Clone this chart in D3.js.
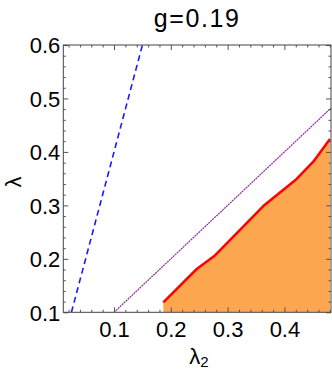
<!DOCTYPE html>
<html><head><meta charset="utf-8">
<script src="https://cdn.jsdelivr.net/npm/d3@7"></script>
<style>body{margin:0;background:#fff}svg{display:block}</style></head>
<body>
<script>
const title = "g=0.19";
const xLabel = "λ";
const xLabelSub = "2";
const yLabel = "λ";
const xDomain = [0.0107, 0.482];
const yDomain = [0.1, 0.6];
const xMajorTicks = [0.1, 0.2, 0.3, 0.4];
const yMajorTicks = [0.1, 0.2, 0.3, 0.4, 0.5, 0.6];
const xTickLabels = ["0.1", "0.2", "0.3", "0.4"];
const yTickLabels = ["0.1", "0.2", "0.3", "0.4", "0.5", "0.6"];
// red boundary curve
const redLambda2 = [0.1868, 0.2456, 0.2765, 0.3628, 0.4216, 0.4508, 0.4802];
const redLambda  = [0.1187, 0.1810, 0.2053, 0.2988, 0.3494, 0.3817, 0.4242];
// blue dashed line
const blueLambda2 = [0.025, 0.15];
const blueLambda  = [0.1, 0.6];
// purple dotted line
const purpleLambda2 = [0.1, 0.482];
const purpleLambda  = [0.1, 0.482];

const W = 332, H = 371;
const m = {left: 63.3, right: 331, top: 45, bottom: 312.3};
const svg = d3.select("body").append("svg").attr("width", W).attr("height", H);
const x = d3.scaleLinear().domain(xDomain).range([m.left, m.right]);
const y = d3.scaleLinear().domain(yDomain).range([m.bottom, m.top]);
const font = "'Liberation Sans', Arial, sans-serif";

svg.append("clipPath").attr("id", "c").append("rect")
  .attr("x", m.left).attr("y", m.top).attr("width", m.right - m.left).attr("height", m.bottom - m.top);
const g = svg.append("g").attr("clip-path", "url(#c)");

const red = redLambda2.map((v, i) => [v, redLambda[i]]);
const fillPts = [[redLambda2[0], yDomain[0]], ...red, [redLambda2[redLambda2.length - 1], yDomain[0]]];
const line = d3.line().x(d => x(d[0])).y(d => y(d[1]));

g.append("path").attr("d", line(fillPts) + "Z").attr("fill", "#fda650").attr("stroke", "none");
g.append("path").attr("d", line(purpleLambda2.map((v, i) => [v, purpleLambda[i]])))
  .attr("fill", "none").attr("stroke", "#8e2c9e").attr("stroke-width", 1.2).attr("stroke-dasharray", "2,0.7");
g.append("path").attr("d", line(blueLambda2.map((v, i) => [v, blueLambda[i]])))
  .attr("fill", "none").attr("stroke", "#1a1aff").attr("stroke-width", 1.6).attr("stroke-dasharray", "6,4");
g.append("path").attr("d", line(red))
  .attr("fill", "none").attr("stroke", "#ff0000").attr("stroke-width", 2.5).attr("stroke-linejoin", "round");

// minor ticks
const xMinor = d3.range(0.02, 0.481, 0.02).filter(v => !xMajorTicks.some(t => Math.abs(t - v) < 1e-6));
const yMinor = d3.range(0.12, 0.6, 0.02).filter(v => !yMajorTicks.some(t => Math.abs(t - v) < 1e-6));
const tickColor = "#555";
function styleAxis(sel) {
  sel.select(".domain").remove();
  sel.selectAll("line").attr("stroke", tickColor);
}
svg.append("g").attr("transform", `translate(0,${m.bottom})`)
  .call(d3.axisBottom(x).tickValues(xMinor).tickSize(-2.5).tickFormat("")).call(styleAxis);
svg.append("g").attr("transform", `translate(0,${m.top})`)
  .call(d3.axisTop(x).tickValues(xMinor).tickSize(-2.5).tickFormat("")).call(styleAxis);
svg.append("g").attr("transform", `translate(0,${m.top})`)
  .call(d3.axisTop(x).tickValues(xMajorTicks).tickSize(-5).tickFormat("")).call(styleAxis);
svg.append("g").attr("transform", `translate(${m.left},0)`)
  .call(d3.axisLeft(y).tickValues(yMinor).tickSize(-2.5).tickFormat("")).call(styleAxis);
svg.append("g").attr("transform", `translate(${m.right},0)`)
  .call(d3.axisRight(y).tickValues(yMinor).tickSize(-2.5).tickFormat("")).call(styleAxis);
svg.append("g").attr("transform", `translate(${m.right},0)`)
  .call(d3.axisRight(y).tickValues(yMajorTicks).tickSize(-5).tickFormat("")).call(styleAxis);

const xAx = svg.append("g").attr("transform", `translate(0,${m.bottom})`)
  .call(d3.axisBottom(x).tickValues(xMajorTicks).tickSize(-5).tickPadding(9)
    .tickFormat((d, i) => xTickLabels[i])).call(styleAxis);
xAx.selectAll("text").attr("font-family", font).attr("font-size", 22).attr("fill", "#000");
const yAx = svg.append("g").attr("transform", `translate(${m.left},0)`)
  .call(d3.axisLeft(y).tickValues(yMajorTicks).tickSize(-5).tickPadding(3)
    .tickFormat((d, i) => yTickLabels[i])).call(styleAxis);
yAx.selectAll("text").attr("font-family", font).attr("font-size", 22).attr("fill", "#000").attr("dy", "0.36em");

// frame
svg.append("rect").attr("x", m.left).attr("y", m.top).attr("width", m.right - m.left).attr("height", m.bottom - m.top)
  .attr("fill", "none").attr("stroke", "#444").attr("stroke-width", 1);

// title
svg.append("text").attr("x", (m.left + m.right) / 2).attr("y", 27).attr("text-anchor", "middle")
  .attr("font-family", font).attr("font-size", 25).attr("letter-spacing", 1.6).text(title);

// x label
const xl = svg.append("text").attr("x", 199).attr("y", 364).attr("text-anchor", "middle")
  .attr("font-family", font).attr("font-size", 22);
xl.append("tspan").text(xLabel);
xl.append("tspan").attr("font-size", 15).attr("dy", 3).text(xLabelSub);

// y label
svg.append("text").attr("transform", "translate(21,182) rotate(-90)").attr("text-anchor", "middle")
  .attr("font-family", font).attr("font-size", 22).text(yLabel);
</script>
</body></html>
